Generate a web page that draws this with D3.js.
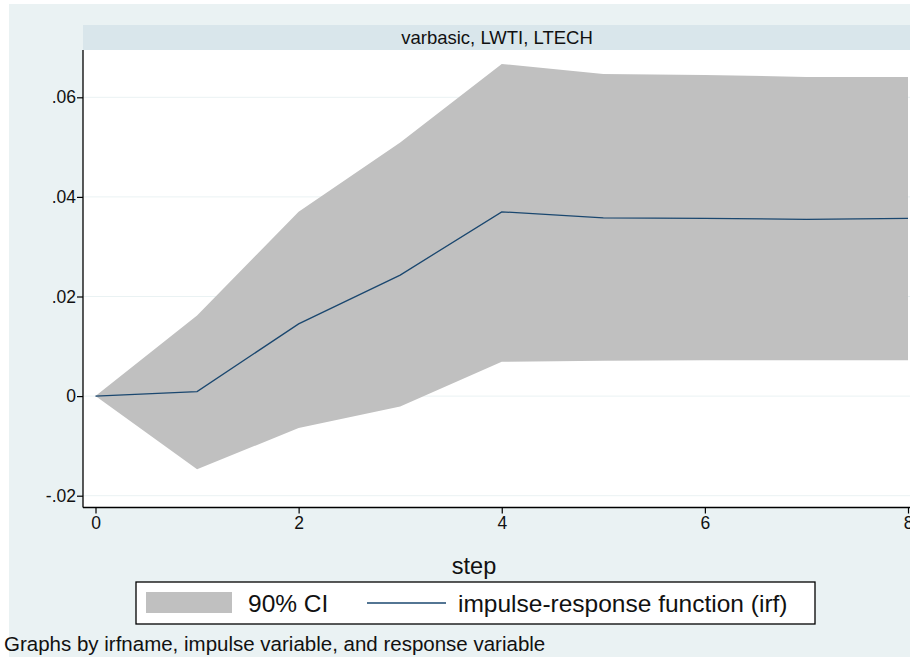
<!DOCTYPE html>
<html>
<head>
<meta charset="utf-8">
<script src="https://cdn.jsdelivr.net/npm/d3@7"></script>
<style>
  html, body { margin: 0; padding: 0; background: #ffffff; }
  svg { display: block; }
  text { font-family: "Liberation Sans", Arial, sans-serif; }
</style>
</head>
<body>
<svg id="chart" width="910" height="657"></svg>
<script>
// ---- data ----
const steps = [0, 1, 2, 3, 4, 5, 6, 7, 8];
const irf   = [0, 0.0009, 0.0145, 0.0243, 0.0370, 0.0358, 0.0357, 0.0355, 0.0357];
const ciLow = [0, -0.0147, -0.0064, -0.0021, 0.0069, 0.0071, 0.0072, 0.0072, 0.0072];
const ciHigh= [0, 0.0162, 0.0370, 0.0509, 0.0667, 0.0647, 0.0645, 0.0641, 0.0641];
const yTicks = [-0.02, 0, 0.02, 0.04, 0.06];
const yTickLabels = ["-.02", "0", ".02", ".04", ".06"];
const xTicks = [0, 2, 4, 6, 8];
const panelTitle = "varbasic, LWTI, LTECH";
const xTitle = "step";
const legendLabels = ["90% CI", "impulse-response function (irf)"];
const note = "Graphs by irfname, impulse variable, and response variable";

// ---- layout ----
const svg = d3.select("#chart");
const plot = { left: 83, top: 50, right: 910, bottom: 507.5 };

const x = d3.scaleLinear().domain([0, 8]).range([95.5, 908]);
const y = d3.scaleLinear().domain([-0.02, 0.06]).range([495.7, 97.3]);

// graph background
svg.append("rect").attr("x", 9).attr("y", 4).attr("width", 901).attr("height", 653)
  .attr("fill", "#eaf2f3");

// title strip
svg.append("rect").attr("x", plot.left).attr("y", 25).attr("width", plot.right - plot.left).attr("height", 25)
  .attr("fill", "#d9e6eb");
svg.append("text").attr("x", 497).attr("y", 37.5)
  .attr("text-anchor", "middle").attr("dominant-baseline", "central")
  .attr("font-size", 18.5).attr("fill", "#111").text(panelTitle);

// plot region
svg.append("rect").attr("x", plot.left).attr("y", plot.top)
  .attr("width", plot.right - plot.left).attr("height", plot.bottom - plot.top)
  .attr("fill", "#ffffff");

// gridlines
svg.append("g").selectAll("line").data(yTicks).join("line")
  .attr("x1", plot.left).attr("x2", plot.right)
  .attr("y1", d => y(d)).attr("y2", d => y(d))
  .attr("stroke", "#eaf2f3").attr("stroke-width", 1);

// CI band
const area = d3.area()
  .x((d, i) => x(steps[i]))
  .y0((d, i) => y(ciLow[i]))
  .y1((d, i) => y(ciHigh[i]));
svg.append("path").datum(steps).attr("d", area).attr("fill", "#c0c0c0");

// IRF line
const line = d3.line().x((d, i) => x(steps[i])).y((d, i) => y(irf[i]));
svg.append("path").datum(steps).attr("d", line)
  .attr("fill", "none").attr("stroke", "#1a476f").attr("stroke-width", 1.3);

// axes
const yAxis = d3.axisLeft(y).tickValues(yTicks)
  .tickFormat((d, i) => yTickLabels[i]).tickSize(6).tickPadding(1);
const gy = svg.append("g").attr("transform", `translate(${plot.left},0)`).call(yAxis);
gy.select(".domain").attr("d", `M0,${plot.top}V${plot.bottom}`).attr("stroke", "#000").attr("stroke-width", 1.3);
gy.selectAll(".tick line").attr("stroke", "#000").attr("stroke-width", 1.2);
gy.selectAll(".tick text").attr("font-size", 17.5).attr("fill", "#111")
  .attr("font-family", "Liberation Sans, Arial, sans-serif");

const xAxis = d3.axisBottom(x).tickValues(xTicks).tickFormat(d3.format("d")).tickSize(6);
const gx = svg.append("g").attr("transform", `translate(0,${plot.bottom})`).call(xAxis);
gx.select(".domain").attr("d", `M${plot.left},0H${plot.right}`).attr("stroke", "#000").attr("stroke-width", 1.3);
gx.selectAll(".tick line").attr("stroke", "#000").attr("stroke-width", 1.2);
gx.selectAll(".tick text").attr("font-size", 17.5).attr("fill", "#111")
  .attr("font-family", "Liberation Sans, Arial, sans-serif")
  .attr("y", 15).attr("dy", null).attr("dominant-baseline", "central");

// x title
svg.append("text").attr("x", 474).attr("y", 566)
  .attr("text-anchor", "middle").attr("dominant-baseline", "central")
  .attr("font-size", 23.5).attr("fill", "#111").text(xTitle);

// legend
const lg = svg.append("g");
lg.append("rect").attr("x", 136).attr("y", 582).attr("width", 679).attr("height", 42)
  .attr("fill", "#fff").attr("stroke", "#000").attr("stroke-width", 1.3);
lg.append("rect").attr("x", 146).attr("y", 592).attr("width", 86).attr("height", 21).attr("fill", "#c0c0c0");
lg.append("text").attr("x", 248).attr("y", 603).attr("dominant-baseline", "central")
  .attr("font-size", 24.5).attr("fill", "#111").text(legendLabels[0]);
lg.append("line").attr("x1", 367).attr("x2", 446).attr("y1", 603).attr("y2", 603)
  .attr("stroke", "#1a476f").attr("stroke-width", 1.3);
lg.append("text").attr("x", 458).attr("y", 603).attr("dominant-baseline", "central")
  .attr("font-size", 24.5).attr("fill", "#111").text(legendLabels[1]);

// note
svg.append("text").attr("x", 4).attr("y", 643).attr("dominant-baseline", "central")
  .attr("font-size", 20.5).attr("fill", "#111").text(note);
</script>
</body>
</html>
